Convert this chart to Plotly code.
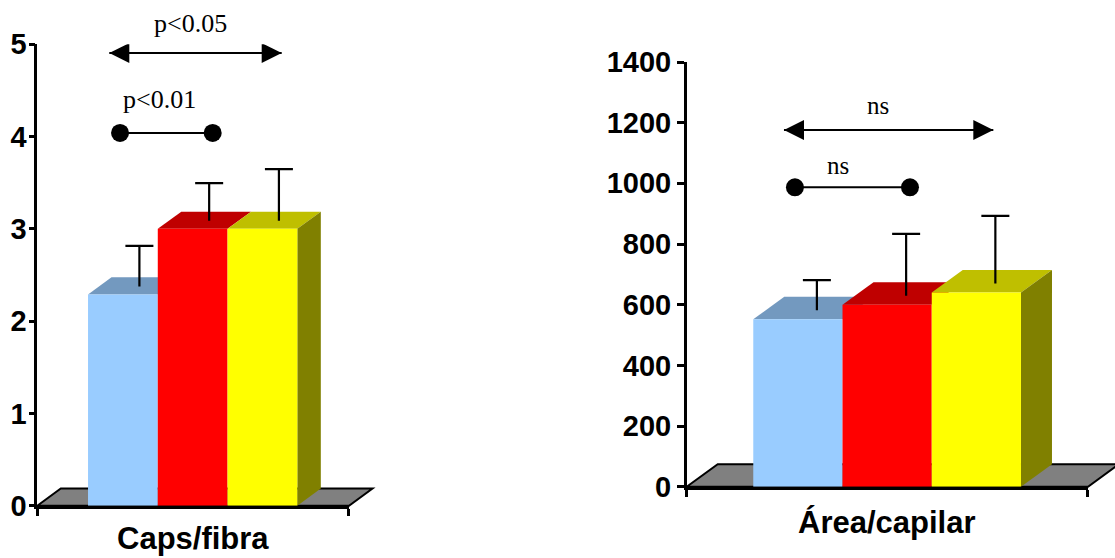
import plotly.graph_objects as go

# ---------------- data ----------------
groups = ["Grupo 1", "Grupo 2", "Grupo 3"]
caps_values = [2.29, 3.00, 3.00]
caps_sd = [0.44, 0.41, 0.56]
area_values = [552, 600, 640]
area_sd = [99, 204, 223]

caps_ticks = [0, 1, 2, 3, 4, 5]
area_ticks = [0, 200, 400, 600, 800, 1000, 1200, 1400]

front_colors = ["#99CCFF", "#FF0000", "#FFFF00"]
top_colors = ["#7399BF", "#BF0000", "#BFBF00"]
side_color = "#808000"
floor_color = "#808080"

# significance brackets: start/end x, y, label and label position (data units)
caps_arrow = dict(x0=-0.195, x1=2.276, y=4.905, label="p&lt;0.05", lx=0.962, ly=5.22)
caps_dots = dict(x0=-0.041, x1=1.287, y=4.04, label="p&lt;0.01", lx=0.518, ly=4.40)
area_arrow = dict(x0=-0.156, x1=2.190, y=1176, label="ns", lx=0.894, ly=1255)
area_dots = dict(x0=-0.033, x1=1.256, y=987, label="ns", lx=0.453, ly=1060)

# ---------------- geometry ----------------
W, H = 1115, 558
panels = [
    dict(name="Caps/fibra", values=caps_values, sd=caps_sd, ticks=caps_ticks,
         px=(37.3, 349.0), py=(505.7, 44.3), yr=(0, 5), xr=(-1.227, 3.241),
         depth=(23.5, 17.2), err_off=(16.5, 8.0), tickfont=29, ticklen=6, standoff=-4, sigfont=26,
         arrow=caps_arrow, dots=caps_dots, title_y=538),
    dict(name="Área/capilar", values=area_values, sd=area_sd, ticks=area_ticks,
         px=(686.7, 1088.0), py=(486.7, 62.0), yr=(0, 1400), xr=(-1.246, 3.251),
         depth=(31.0, 22.5), err_off=(19.0, 9.0), tickfont=29, ticklen=7, standoff=0, sigfont=25,
         arrow=area_arrow, dots=area_dots, title_y=522),
]

fig = go.Figure()
shapes = []
annotations = []
layout_axes = {}

xpos = list(range(len(groups)))

for k, p in enumerate(panels):
    xa = "x" if k == 0 else f"x{k+1}"
    ya = "y" if k == 0 else f"y{k+1}"
    xa_key = "xaxis" if k == 0 else f"xaxis{k+1}"
    ya_key = "yaxis" if k == 0 else f"yaxis{k+1}"
    serif = dict(family="Liberation Serif, Times New Roman, serif", size=p["sigfont"], color="black")

    xpx_per = (p["px"][1] - p["px"][0]) / (p["xr"][1] - p["xr"][0])
    ypx_per = (p["py"][0] - p["py"][1]) / (p["yr"][1] - p["yr"][0])
    dx = p["depth"][0] / xpx_per
    dy = p["depth"][1] / ypx_per
    ex = p["err_off"][0] / xpx_per
    ey = p["err_off"][1] / ypx_per
    dom_w = (p["px"][1] - p["px"][0])
    dom_h = (p["py"][0] - p["py"][1])

    # floor (decorative, in domain coordinates so it can extend past the axis end)
    fdx = p["depth"][0] / dom_w
    fdy = p["depth"][1] / dom_h
    shapes.append(dict(type="path", xref=f"{xa} domain", yref=f"{ya} domain", layer="below",
                       path=f"M0,0 L{fdx},{fdy} L{1+fdx},{fdy} L1,0 Z",
                       fillcolor=floor_color, line=dict(color="black", width=2)))

    # front faces of the bars
    fig.add_trace(go.Bar(x=xpos, y=p["values"], width=1, marker=dict(color=front_colors, line=dict(width=0)),
                         xaxis=xa, yaxis=ya, showlegend=False, hoverinfo="skip"))

    # top faces and side face
    for i, v in enumerate(p["values"]):
        x0, x1 = xpos[i] - 0.5, xpos[i] + 0.5
        shapes.append(dict(type="path", xref=xa, yref=ya, layer="below",
                           path=f"M{x0},{v} L{x0+dx},{v+dy} L{x1+dx},{v+dy} L{x1},{v} Z",
                           fillcolor=top_colors[i], line=dict(width=0)))
    i = len(p["values"]) - 1
    v = p["values"][i]
    x1 = xpos[i] + 0.5
    shapes.append(dict(type="path", xref=xa, yref=ya, layer="below",
                       path=f"M{x1},0 L{x1+dx},{dy} L{x1+dx},{v+dy} L{x1},{v} Z",
                       fillcolor=side_color, line=dict(width=0)))

    # error bars (upper only, drawn at mid depth of the top face)
    ex_x = [x + ex for x in xpos]
    base = [v + ey for v in p["values"]]
    fig.add_trace(go.Scatter(x=ex_x, y=base, mode="markers", marker=dict(size=1, color="rgba(0,0,0,0)"),
                             error_y=dict(type="data", symmetric=False, array=p["sd"], arrayminus=[0] * len(p["sd"]),
                                          color="black", thickness=2.2, width=0),
                             xaxis=xa, yaxis=ya, showlegend=False, hoverinfo="skip"))
    fig.add_trace(go.Scatter(x=ex_x, y=[b + s for b, s in zip(base, p["sd"])], mode="markers",
                             marker=dict(symbol="line-ew", size=20, line=dict(color="black", width=2.2)),
                             xaxis=xa, yaxis=ya, showlegend=False, hoverinfo="skip"))

    y_lo, y_hi = p["yr"]

    def dom(yv):
        return (yv - y_lo) / (y_hi - y_lo)

    # significance: dots
    d = p["dots"]
    fig.add_trace(go.Scatter(x=[d["x0"], d["x1"]], y=[d["y"], d["y"]], mode="lines+markers",
                             line=dict(color="black", width=2), marker=dict(size=18, color="black"),
                             xaxis=xa, yaxis=ya, showlegend=False, hoverinfo="skip"))
    annotations.append(dict(x=d["lx"], y=dom(d["ly"]), xref=xa, yref=f"{ya} domain", text=d["label"],
                            showarrow=False, font=serif, xanchor="center", yanchor="middle"))
    # significance: double arrow
    a = p["arrow"]
    fig.add_trace(go.Scatter(x=[a["x0"], a["x1"]], y=[a["y"], a["y"]], mode="lines",
                             line=dict(color="black", width=2),
                             xaxis=xa, yaxis=ya, showlegend=False, hoverinfo="skip"))
    shapes.append(dict(type="path", xref=xa, yref=ya, xsizemode="pixel", ysizemode="pixel",
                       xanchor=a["x0"], yanchor=a["y"], path="M0,0 L20,10 L20,-10 Z",
                       fillcolor="black", line=dict(width=0)))
    shapes.append(dict(type="path", xref=xa, yref=ya, xsizemode="pixel", ysizemode="pixel",
                       xanchor=a["x1"], yanchor=a["y"], path="M0,0 L-20,10 L-20,-10 Z",
                       fillcolor="black", line=dict(width=0)))
    annotations.append(dict(x=a["lx"], y=dom(a["ly"]), xref=xa, yref=f"{ya} domain", text=a["label"],
                            showarrow=False, font=serif, xanchor="center", yanchor="middle"))

    # category label
    annotations.append(dict(x=0.5, y=(H - p["title_y"]) / H, xref=f"{xa} domain", yref="paper",
                            text=p["name"], showarrow=False,
                            font=dict(family="Liberation Sans, Arial, sans-serif", size=31, color="black",
                                      weight="bold"),
                            xanchor="center", yanchor="middle"))

    layout_axes[xa_key] = dict(domain=[p["px"][0] / W, p["px"][1] / W], range=list(p["xr"]),
                               anchor=ya, showgrid=False, zeroline=False, showline=True,
                               linecolor="black", linewidth=3, ticks="outside", ticklen=7,
                               tickwidth=2.5, tickcolor="black", automargin=False,
                               tickvals=[p["xr"][0] + 1e-4, p["xr"][1] - 1e-4], showticklabels=False,
                               fixedrange=True)
    layout_axes[ya_key] = dict(domain=[(H - p["py"][0]) / H, (H - p["py"][1]) / H], range=list(p["yr"]),
                               anchor=xa, showgrid=False, zeroline=False, showline=True,
                               linecolor="black", linewidth=2.5, ticks="outside", ticklen=p["ticklen"],
                               ticklabelstandoff=p["standoff"],
                               tickwidth=2.5, tickcolor="black", tickvals=p["ticks"], automargin=False,
                               tickfont=dict(family="Liberation Sans, Arial, sans-serif", size=p["tickfont"],
                                             color="black", weight="bold"),
                               fixedrange=True)

fig.update_layout(template="none", width=W, height=H, margin=dict(l=0, r=0, t=0, b=0, pad=0),
                  autosize=False, paper_bgcolor="white", plot_bgcolor="white",
                  shapes=shapes, annotations=annotations, showlegend=False, **layout_axes)

fig.write_html("out.html", config={"displayModeBar": False},
               post_script="document.body.style.margin='0px';")
